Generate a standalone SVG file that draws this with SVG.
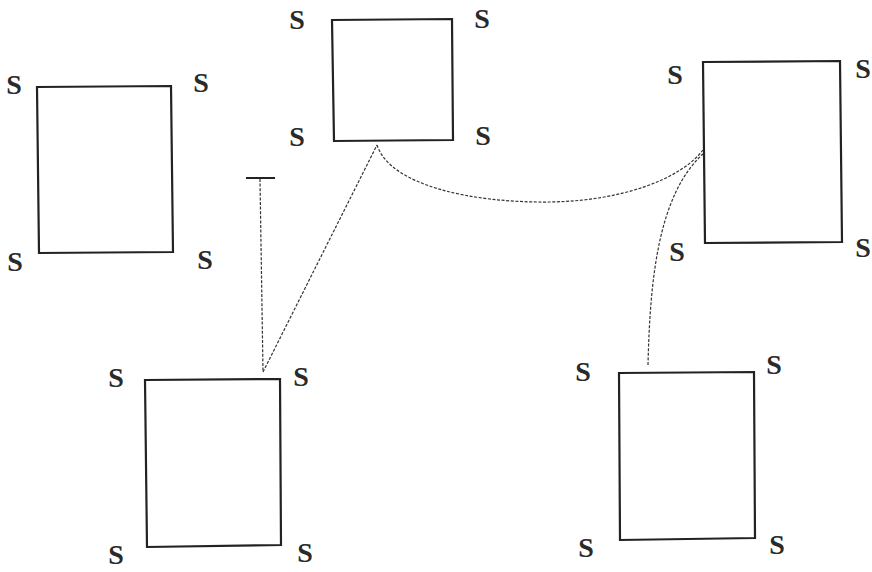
<svg xmlns="http://www.w3.org/2000/svg" width="872" height="572" viewBox="0 0 872 572">
<style>
.box{fill:none;stroke:#222;stroke-width:2.2}
.s{font-family:"Liberation Serif","Times New Roman",serif;font-weight:bold;font-size:28px;fill:#2a2a2a;text-anchor:middle}
.dot{fill:none;stroke:#333;stroke-width:1.2;stroke-dasharray:3 1.6}
</style>
<rect width="872" height="572" fill="#ffffff"/>
<g id="node-a">
<path class="box" d="M37,87 L171,86 L173,252 L39,253 Z"/>
<text class="s" x="14" y="94">S</text>
<text class="s" x="201" y="92">S</text>
<text class="s" x="15" y="271">S</text>
<text class="s" x="205" y="269">S</text>
</g>
<g id="node-b">
<path class="box" d="M332,20 L452,19 L453,140 L334,141 Z"/>
<text class="s" x="297" y="29">S</text>
<text class="s" x="482" y="28">S</text>
<text class="s" x="297" y="146">S</text>
<text class="s" x="483" y="145">S</text>
</g>
<g id="node-c">
<path class="box" d="M703,62 L840,61 L842,242 L705,243 Z"/>
<text class="s" x="675" y="84">S</text>
<text class="s" x="863" y="78">S</text>
<text class="s" x="677" y="261">S</text>
<text class="s" x="863" y="257">S</text>
</g>
<g id="node-d">
<path class="box" d="M145,380 L280,379 L281,545 L147,547 Z"/>
<text class="s" x="116" y="387">S</text>
<text class="s" x="301" y="386">S</text>
<text class="s" x="116" y="564">S</text>
<text class="s" x="305" y="562">S</text>
</g>
<g id="node-e">
<path class="box" d="M619,373 L754,372 L755,538 L620,540 Z"/>
<text class="s" x="583" y="381">S</text>
<text class="s" x="774" y="374">S</text>
<text class="s" x="586" y="557">S</text>
<text class="s" x="777" y="554">S</text>
</g>
<g id="connectors">
<line x1="246" y1="178" x2="275" y2="178" stroke="#222" stroke-width="2"/>
<path class="dot" d="M260,179 L263,372"/>
<path class="dot" d="M263,372 L377,145"/>
<path class="dot" d="M377,145 C390,185 470,203 550,202 C620,201 680,180 703,150"/>
<path class="dot" d="M648,365 C650,280 658,195 703,154"/>
</g>
</svg>
